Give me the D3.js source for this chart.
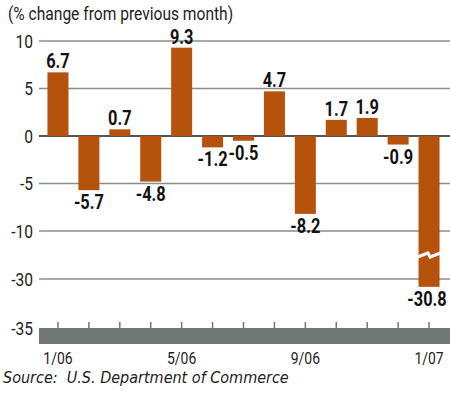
<!DOCTYPE html>
<html>
<head>
<meta charset="utf-8">
<script src="https://cdn.jsdelivr.net/npm/d3@7"></script>
<style>
  body { margin: 0; background: #fff; }
  text { font-family: Roboto, "DejaVu Sans", sans-serif; }
</style>
</head>
<body>
<div id="chart"></div>
<script>
// Data
const months = ["1/06", "2/06", "3/06", "4/06", "5/06", "6/06", "7/06", "8/06", "9/06", "10/06", "11/06", "12/06", "1/07"];
const changes = [6.7, -5.7, 0.7, -4.8, 9.3, -1.2, -0.5, 4.7, -8.2, 1.7, 1.9, -0.9, -30.8];
const yTicks = [10, 5, 0, -5, -10, -30, -35];
const xLabels = ["1/06", "5/06", "9/06", "1/07"];

const width = 450;
const height = 398;
const barColor = "#b5530d";
const squeeze = 0.82; // condensed look for the news-graphic font

const svg = d3.select("#chart")
    .append("svg")
    .attr("width", width)
    .attr("height", height);

// place text with a horizontal squeeze
const place = (x, y) => "translate(" + x + "," + y + ") scale(" + squeeze + ",1)";

// x scale, bars centred on the tick marks
const x = d3.scaleBand()
    .domain(months)
    .range([42.5, 444.5])
    .paddingInner(0.32)
    .paddingOuter(0.16);

// broken y axis: -10 to -30 squeezed into one step
const y = d3.scaleLinear()
    .domain([-35, -30, -10, 10])
    .range([328, 279, 231, 41]);

// title
svg.append("text")
    .attr("transform", place(8, 20))
    .style("font-size", "19px")
    .attr("fill", "#222")
    .text("(% change from previous month)");

// gridlines
svg.append("g")
    .selectAll("line")
    .data(yTicks.filter(d => d !== -35))
    .enter()
    .append("line")
    .attr("x1", 39)
    .attr("x2", width)
    .attr("y1", d => y(d))
    .attr("y2", d => y(d))
    .attr("stroke", d => d === 0 ? "#1a1a1a" : "#8c8c8c")
    .attr("stroke-width", d => d === 0 ? 1.6 : 1.3);

// y labels
svg.append("g")
    .selectAll("text")
    .data(yTicks)
    .enter()
    .append("text")
    .attr("transform", d => place(33, y(d) + 6.5))
    .attr("text-anchor", "end")
    .style("font-size", "19px")
    .attr("fill", "#222")
    .text(d => d);

// bars
svg.selectAll(".bar")
    .data(changes)
    .enter()
    .append("rect")
    .attr("class", "bar")
    .attr("x", (d, i) => x(months[i]))
    .attr("y", d => y(Math.max(0, d)))
    .attr("width", x.bandwidth())
    .attr("height", d => Math.abs(y(d) - y(0)))
    .attr("fill", barColor);

// break mark on the long bar
const last = months[months.length - 1];
const bx = x(last);
const bw = x.bandwidth();
const by = y(-20);
svg.append("path")
    .attr("d", "M" + (bx - 1) + "," + (by + 2) +
        " L" + (bx + bw * 0.45) + "," + (by - 2) +
        " L" + (bx + bw * 0.55) + "," + (by + 2) +
        " L" + (bx + bw + 1) + "," + (by - 2))
    .attr("fill", "none")
    .attr("stroke", "#fff")
    .attr("stroke-width", 3);

// value labels
svg.selectAll(".val")
    .data(changes)
    .enter()
    .append("text")
    .attr("class", "val")
    .attr("transform", (d, i) => place(x(months[i]) + x.bandwidth() / 2 + (i === months.length - 1 ? -2 : 0),
        d >= 0 ? y(d) - 4 : y(d) + 19))
    .attr("text-anchor", "middle")
    .style("font-size", "20px")
    .style("font-weight", "bold")
    .attr("fill", "#111")
    .text(d => d.toFixed(1));

// axis bar
svg.append("rect")
    .attr("x", 39)
    .attr("y", 328)
    .attr("width", width - 39)
    .attr("height", 16)
    .attr("fill", "#717773");

// tick marks
svg.append("g")
    .selectAll("line")
    .data(months)
    .enter()
    .append("line")
    .attr("x1", d => x(d) + x.bandwidth() / 2)
    .attr("x2", d => x(d) + x.bandwidth() / 2)
    .attr("y1", 322)
    .attr("y2", 329)
    .attr("stroke", "#717773")
    .attr("stroke-width", 1.5);

// x labels
svg.append("g")
    .selectAll("text")
    .data(xLabels)
    .enter()
    .append("text")
    .attr("transform", d => place(x(d) + x.bandwidth() / 2, 364))
    .attr("text-anchor", "middle")
    .style("font-size", "17px")
    .attr("fill", "#222")
    .text(d => d);

// source
svg.append("text")
    .attr("x", 3)
    .attr("y", 383)
    .style("font-family", "'DejaVu Sans Condensed', 'DejaVu Sans', sans-serif")
    .style("font-stretch", "condensed")
    .style("font-size", "16px")
    .style("font-style", "italic")
    .style("white-space", "pre")
    .attr("fill", "#222")
    .text("Source:  U.S. Department of Commerce");
</script>
</body>
</html>
